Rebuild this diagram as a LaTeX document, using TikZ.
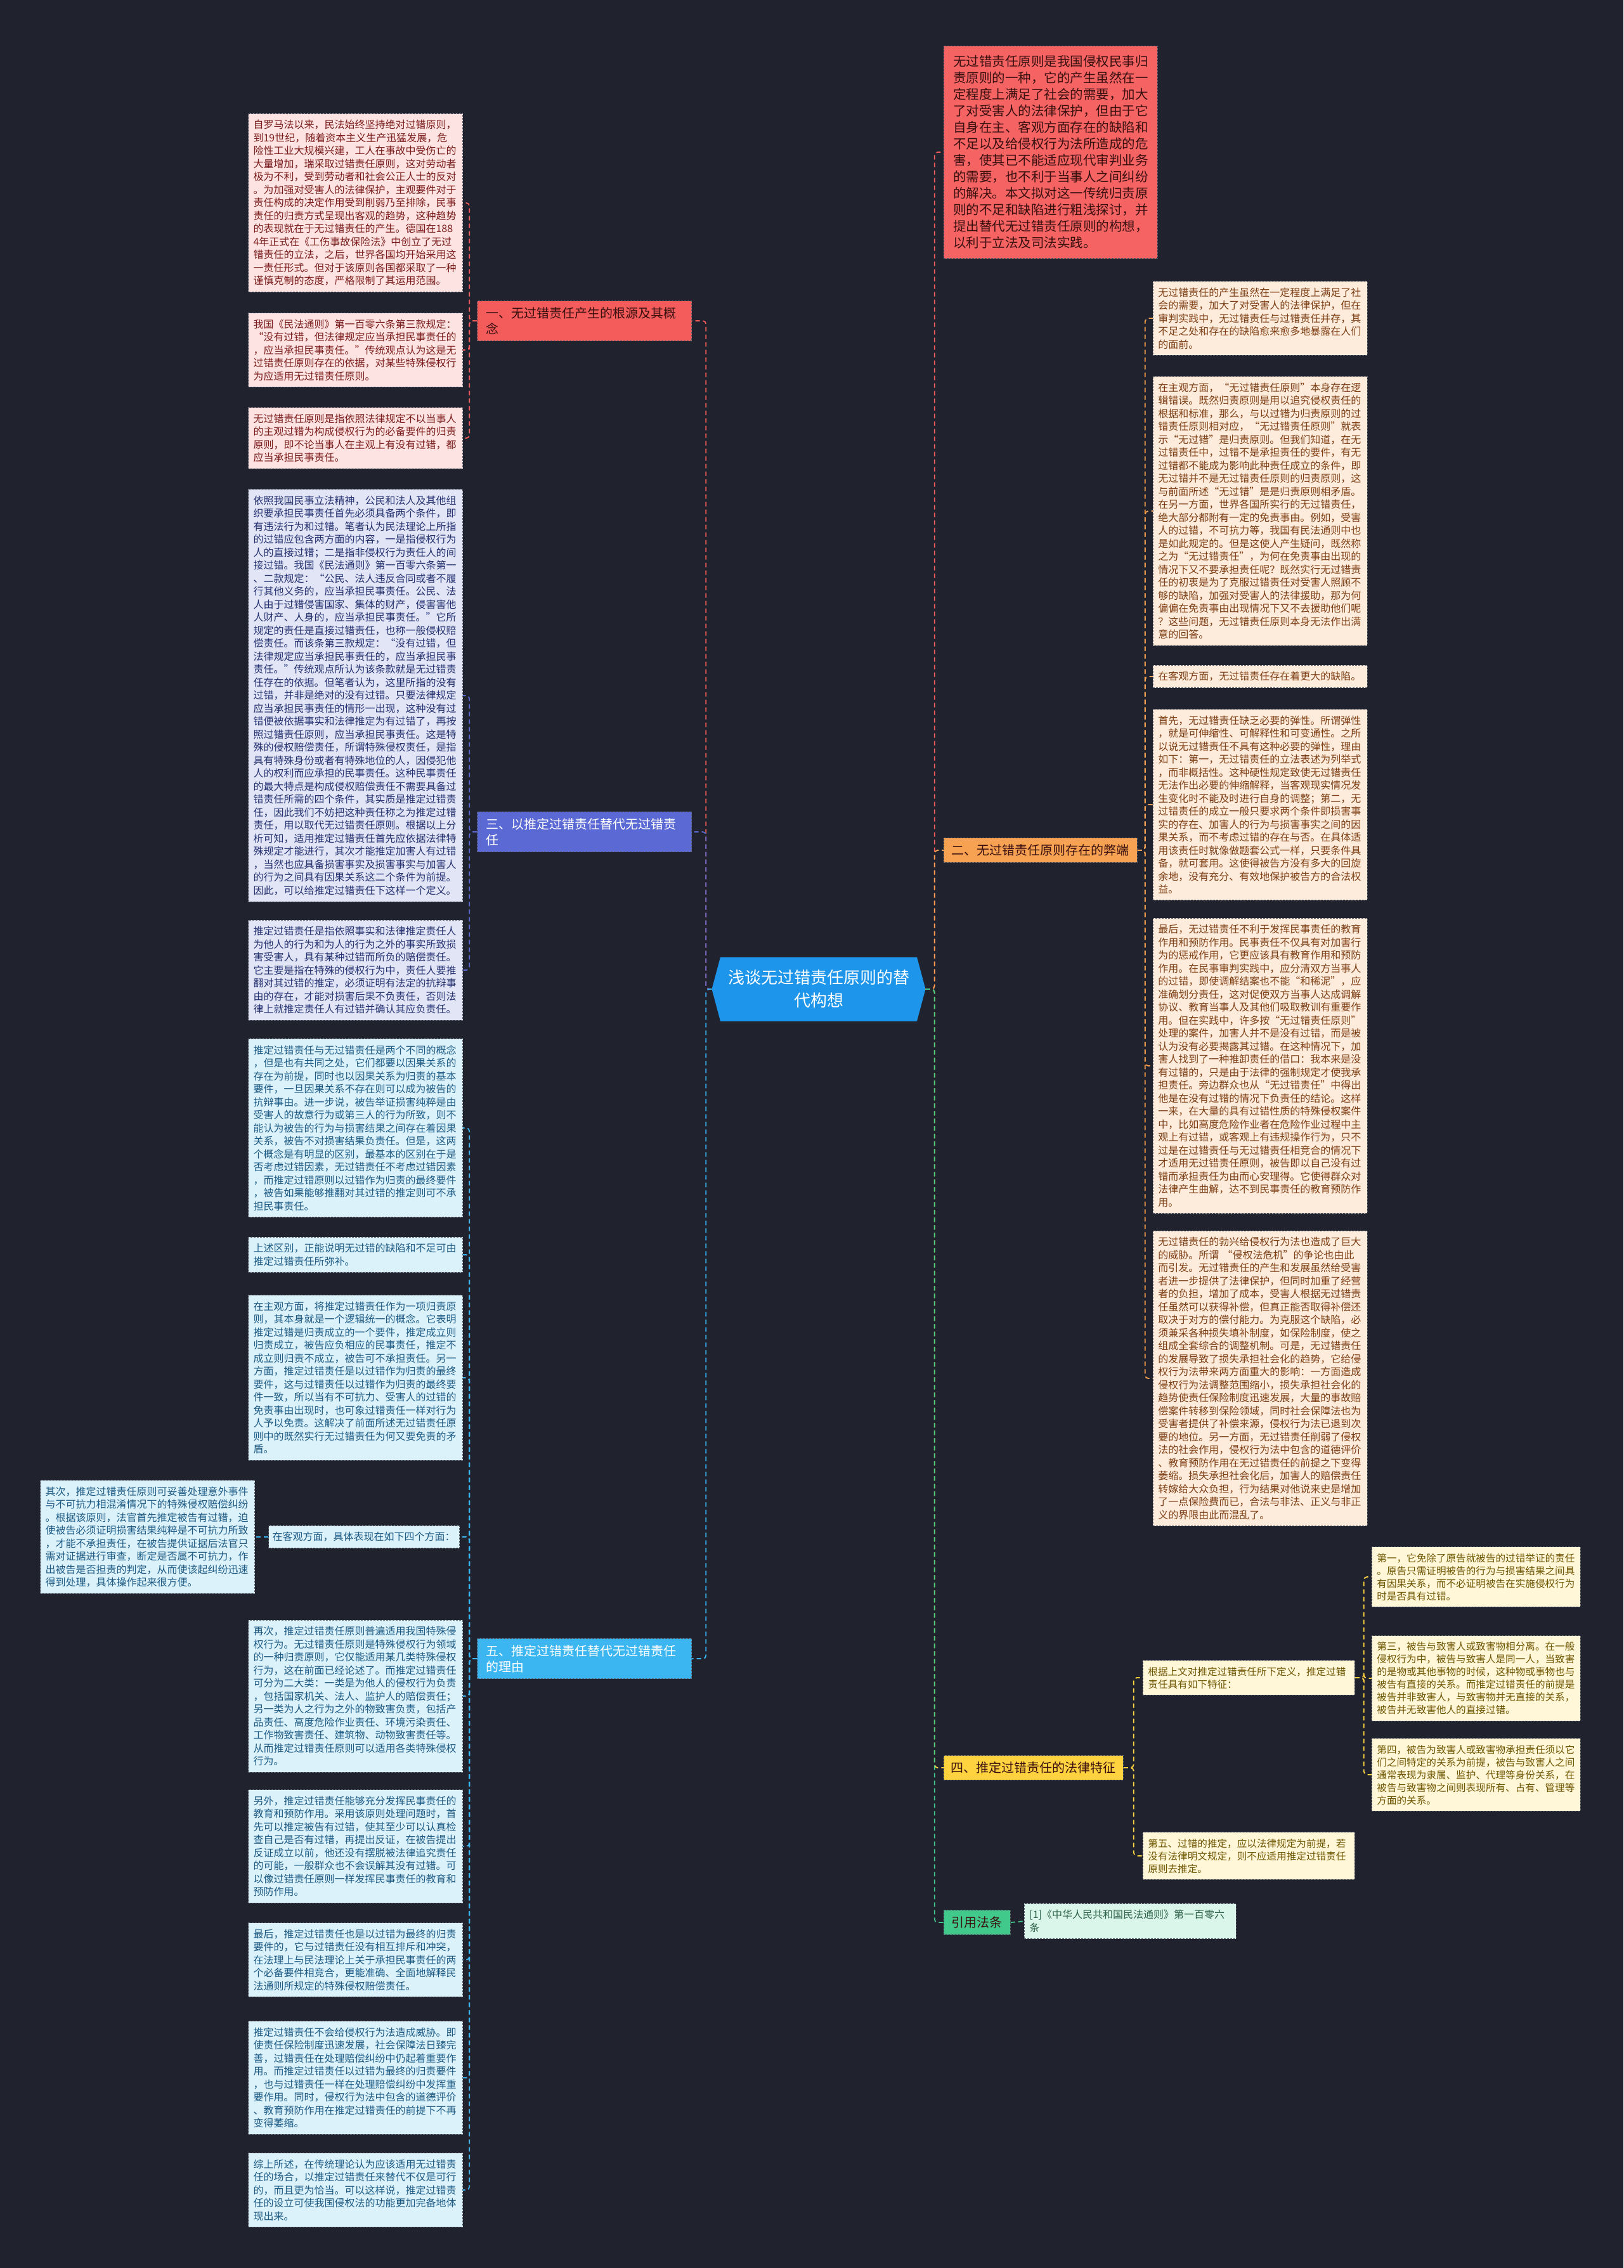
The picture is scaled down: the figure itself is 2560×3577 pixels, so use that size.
\documentclass[tikz,border=0pt]{standalone}
\usepackage{fontspec}
\newfontfamily\cjk{Noto Sans CJK SC}
\usetikzlibrary{shapes.symbols}
\definecolor{Night}{HTML}{20232E}
\definecolor{Edge}{HTML}{5C6170}
\definecolor{Coral}{HTML}{F45B5B}
\definecolor{CoralInk}{HTML}{3A1010}
\definecolor{Indigo}{HTML}{5A69D3}
\definecolor{Sky}{HTML}{3BB6F0}
\definecolor{Tangerine}{HTML}{F7A252}
\definecolor{Sun}{HTML}{FFD23F}
\definecolor{Jade}{HTML}{40C98B}
\definecolor{Azure}{HTML}{1C95EA}
\definecolor{RoseSoft}{HTML}{FDE3E1}
\definecolor{RoseInk}{HTML}{7A1C1C}
\definecolor{LilacSoft}{HTML}{E2E5F6}
\definecolor{LilacInk}{HTML}{243170}
\definecolor{IceSoft}{HTML}{DCF2FB}
\definecolor{IceInk}{HTML}{1C5A84}
\definecolor{PeachSoft}{HTML}{FDEBDC}
\definecolor{PeachInk}{HTML}{7E3F14}
\definecolor{CreamSoft}{HTML}{FFF7D8}
\definecolor{CreamInk}{HTML}{6E5500}
\definecolor{MintSoft}{HTML}{DAF5E9}
\definecolor{MintInk}{HTML}{2C6049}
\tikzset{
  leafbase/.style={draw=Edge,dash pattern=on 3pt off 2pt,line width=0.8pt,text width=322pt,inner xsep=8pt,inner ysep=10pt,align=left,font=\cjk\fontsize{16}{20.5}\selectfont},
  roseleaf/.style={leafbase,fill=RoseSoft,text=RoseInk},
  lilacleaf/.style={leafbase,fill=LilacSoft,text=LilacInk},
  iceleaf/.style={leafbase,fill=IceSoft,text=IceInk},
  peachleaf/.style={leafbase,fill=PeachSoft,text=PeachInk},
  creamleaf/.style={leafbase,fill=CreamSoft,text=CreamInk,text width=313pt,font=\cjk\fontsize{15.6}{20}\selectfont},
  mintleaf/.style={leafbase,fill=MintSoft,text=MintInk},
  topicbase/.style={draw=Edge,dash pattern=on 3pt off 2pt,line width=0.8pt,align=left,inner ysep=10pt,font=\cjk\fontsize{20}{25}\selectfont},
  redtopic/.style={topicbase,fill=Coral,text=CoralInk,text width=310pt,inner xsep=14pt},
  indigotopic/.style={topicbase,fill=Indigo,text=white,text width=310pt,inner xsep=14pt},
  skytopic/.style={topicbase,fill=Sky,text=white,text width=310pt,inner xsep=14pt},
  orangetopic/.style={topicbase,fill=Tangerine,text=CoralInk,inner xsep=12.5pt},
  suntopic/.style={topicbase,fill=Sun,text=CoralInk,inner xsep=11.5pt},
  jadetopic/.style={topicbase,fill=Jade,text=CoralInk,inner xsep=12.5pt},
  introbox/.style={topicbase,fill=Coral!95!white,text=CoralInk,text width=307pt,inner xsep=15pt,inner ysep=15pt,font=\cjk\fontsize{20.5}{26}\selectfont},
  rootbox/.style={signal,signal to=west and east,signal pointer angle=150,fill=Azure,text=white,align=center,minimum width=337pt,minimum height=101pt,font=\cjk\fontsize{26}{36}\selectfont},
  link/.style={draw=#1,dash pattern=on 7pt off 5pt,line width=1.8pt,rounded corners=5pt}
}
\begin{document}
\begin{tikzpicture}[x=1pt,y=-1pt]
  \fill[Night] (0,0) rectangle (2560,3577);
  \useasboundingbox (0,0) rectangle (2560,3577);

  \node[rootbox] (root) at (1291,1560) {浅谈无过错责任原则的替\\代构想};

  \node[redtopic,anchor=east] (b1) at (1091,506) {一、无过错责任产生的根源及其概\\念};
  \node[indigotopic,anchor=east] (b3) at (1091,1312) {三、以推定过错责任替代无过错责\\任};
  \node[skytopic,anchor=east] (b5) at (1091,2616) {五、推定过错责任替代无过错责任\\的理由};

  \node[introbox,anchor=west] (intro) at (1488,240) {无过错责任原则是我国侵权民事归\\责原则的一种，它的产生虽然在一\\定程度上满足了社会的需要，加大\\了对受害人的法律保护，但由于它\\自身在主、客观方面存在的缺陷和\\不足以及给侵权行为法所造成的危\\害，使其已不能适应现代审判业务\\的需要，也不利于当事人之间纠纷\\的解决。本文拟对这一传统归责原\\则的不足和缺陷进行粗浅探讨，并\\提出替代无过错责任原则的构想，\\以利于立法及司法实践。};
  \node[orangetopic,anchor=west] (b2) at (1488,1341) {二、无过错责任原则存在的弊端};
  \node[suntopic,anchor=west] (b4) at (1488,2788) {四、推定过错责任的法律特征};
  \node[jadetopic,anchor=west] (b6) at (1488,3032) {引用法条};

  \node[roseleaf,anchor=east] (l11) at (730,320) {自罗马法以来，民法始终坚持绝对过错原则，\\到19世纪，随着资本主义生产迅猛发展，危\\险性工业大规模兴建，工人在事故中受伤亡的\\大量增加，瑞采取过错责任原则，这对劳动者\\极为不利，受到劳动者和社会公正人士的反对\\。为加强对受害人的法律保护，主观要件对于\\责任构成的决定作用受到削弱乃至排除，民事\\责任的归责方式呈现出客观的趋势，这种趋势\\的表现就在于无过错责任的产生。德国在188\\4年正式在《工伤事故保险法》中创立了无过\\错责任的立法，之后，世界各国均开始采用这\\一责任形式。但对于该原则各国都采取了一种\\谨慎克制的态度，严格限制了其运用范围。};
  \node[roseleaf,anchor=east] (l12) at (730,552) {我国《民法通则》第一百零六条第三款规定：\\“没有过错，但法律规定应当承担民事责任的\\，应当承担民事责任。”传统观点认为这是无\\过错责任原则存在的依据，对某些特殊侵权行\\为应适用无过错责任原则。};
  \node[roseleaf,anchor=east] (l13) at (730,691) {无过错责任原则是指依照法律规定不以当事人\\的主观过错为构成侵权行为的必备要件的归责\\原则，即不论当事人在主观上有没有过错，都\\应当承担民事责任。};

  \node[lilacleaf,anchor=east] (l31) at (730,1097) {依照我国民事立法精神，公民和法人及其他组\\织要承担民事责任首先必须具备两个条件，即\\有违法行为和过错。笔者认为民法理论上所指\\的过错应包含两方面的内容，一是指侵权行为\\人的直接过错；二是指非侵权行为责任人的间\\接过错。我国《民法通则》第一百零六条第一\\、二款规定：“公民、法人违反合同或者不履\\行其他义务的，应当承担民事责任。公民、法\\人由于过错侵害国家、集体的财产，侵害害他\\人财产、人身的，应当承担民事责任。”它所\\规定的责任是直接过错责任，也称一般侵权赔\\偿责任。而该条第三款规定：“没有过错，但\\法律规定应当承担民事责任的，应当承担民事\\责任。”传统观点所认为该条款就是无过错责\\任存在的依据。但笔者认为，这里所指的没有\\过错，并非是绝对的没有过错。只要法律规定\\应当承担民事责任的情形一出现，这种没有过\\错便被依据事实和法律推定为有过错了，再按\\照过错责任原则，应当承担民事责任。这是特\\殊的侵权赔偿责任，所谓特殊侵权责任，是指\\具有特殊身份或者有特殊地位的人，因侵犯他\\人的权利而应承担的民事责任。这种民事责任\\的最大特点是构成侵权赔偿责任不需要具备过\\错责任所需的四个条件，其实质是推定过错责\\任，因此我们不妨把这种责任称之为推定过错\\责任，用以取代无过错责任原则。根据以上分\\析可知，适用推定过错责任首先应依据法律特\\殊规定才能进行，其次才能推定加害人有过错\\，当然也应具备损害事实及损害事实与加害人\\的行为之间具有因果关系这二个条件为前提。\\因此，可以给推定过错责任下这样一个定义。};
  \node[lilacleaf,anchor=east] (l32) at (730,1530) {推定过错责任是指依照事实和法律推定责任人\\为他人的行为和为人的行为之外的事实所致损\\害受害人，具有某种过错而所负的赔偿责任。\\它主要是指在特殊的侵权行为中，责任人要推\\翻对其过错的推定，必须证明有法定的抗辩事\\由的存在，才能对损害后果不负责任，否则法\\律上就推定责任人有过错并确认其应负责任。};

  \node[iceleaf,anchor=east] (l51) at (730,1779) {推定过错责任与无过错责任是两个不同的概念\\，但是也有共同之处，它们都要以因果关系的\\存在为前提，同时也以因果关系为归责的基本\\要件，一旦因果关系不存在则可以成为被告的\\抗辩事由。进一步说，被告举证损害纯粹是由\\受害人的故意行为或第三人的行为所致，则不\\能认为被告的行为与损害结果之间存在着因果\\关系，被告不对损害结果负责任。但是，这两\\个概念是有明显的区别，最基本的区别在于是\\否考虑过错因素，无过错责任不考虑过错因素\\，而推定过错原则以过错作为归责的最终要件\\，被告如果能够推翻对其过错的推定则可不承\\担民事责任。};
  \node[iceleaf,anchor=east] (l52) at (730,1979) {上述区别，正能说明无过错的缺陷和不足可由\\推定过错责任所弥补。};
  \node[iceleaf,anchor=east] (l53) at (730,2173) {在主观方面，将推定过错责任作为一项归责原\\则，其本身就是一个逻辑统一的概念。它表明\\推定过错是归责成立的一个要件，推定成立则\\归责成立，被告应负相应的民事责任，推定不\\成立则归责不成立，被告可不承担责任。另一\\方面，推定过错责任是以过错作为归责的最终\\要件，这与过错责任以过错作为归责的最终要\\件一致，所以当有不可抗力、受害人的过错的\\免责事由出现时，也可象过错责任一样对行为\\人予以免责。这解决了前面所述无过错责任原\\则中的既然实行无过错责任为何又要免责的矛\\盾。};
  \node[iceleaf,anchor=east,text width=289pt,inner xsep=6pt] (l54) at (725,2424) {在客观方面，具体表现在如下四个方面：};
  \node[iceleaf,anchor=east] (l55) at (402,2424) {其次，推定过错责任原则可妥善处理意外事件\\与不可抗力相混淆情况下的特殊侵权赔偿纠纷\\。根据该原则，法官首先推定被告有过错，迫\\使被告必须证明损害结果纯粹是不可抗力所致\\，才能不承担责任，在被告提供证据后法官只\\需对证据进行审查，断定是否属不可抗力，作\\出被告是否担责的判定，从而使该起纠纷迅速\\得到处理，具体操作起来很方便。};
  \node[iceleaf,anchor=east] (l56) at (730,2675) {再次，推定过错责任原则普遍适用我国特殊侵\\权行为。无过错责任原则是特殊侵权行为领域\\的一种归责原则，它仅能适用某几类特殊侵权\\行为，这在前面已经论述了。而推定过错责任\\可分为二大类：一类是为他人的侵权行为负责\\，包括国家机关、法人、监护人的赔偿责任；\\另一类为人之行为之外的物致害负责，包括产\\品责任、高度危险作业责任、环境污染责任、\\工作物致害责任、建筑物、动物致害责任等。\\从而推定过错责任原则可以适用各类特殊侵权\\行为。};
  \node[iceleaf,anchor=east] (l57) at (730,2912) {另外，推定过错责任能够充分发挥民事责任的\\教育和预防作用。采用该原则处理问题时，首\\先可以推定被告有过错，使其至少可以认真检\\查自己是否有过错，再提出反证，在被告提出\\反证成立以前，他还没有摆脱被法律追究责任\\的可能，一般群众也不会误解其没有过错。可\\以像过错责任原则一样发挥民事责任的教育和\\预防作用。};
  \node[iceleaf,anchor=east] (l58) at (730,3091) {最后，推定过错责任也是以过错为最终的归责\\要件的，它与过错责任没有相互排斥和冲突，\\在法理上与民法理论上关于承担民事责任的两\\个必备要件相竞合，更能准确、全面地解释民\\法通则所规定的特殊侵权赔偿责任。};
  \node[iceleaf,anchor=east] (l59) at (730,3277) {推定过错责任不会给侵权行为法造成威胁。即\\使责任保险制度迅速发展，社会保障法日臻完\\善，过错责任在处理赔偿纠纷中仍起着重要作\\用。而推定过错责任以过错为最终的归责要件\\，也与过错责任一样在处理赔偿纠纷中发挥重\\要作用。同时，侵权行为法中包含的道德评价\\、教育预防作用在推定过错责任的前提下不再\\变得萎缩。};
  \node[iceleaf,anchor=east] (l510) at (730,3454) {综上所述，在传统理论认为应该适用无过错责\\任的场合，以推定过错责任来替代不仅是可行\\的，而且更为恰当。可以这样说，推定过错责\\任的设立可使我国侵权法的功能更加完备地体\\现出来。};

  \node[peachleaf,anchor=west] (l21) at (1818,502) {无过错责任的产生虽然在一定程度上满足了社\\会的需要，加大了对受害人的法律保护，但在\\审判实践中，无过错责任与过错责任并存，其\\不足之处和存在的缺陷愈来愈多地暴露在人们\\的面前。};
  \node[peachleaf,anchor=west] (l22) at (1818,806) {在主观方面，“无过错责任原则”本身存在逻\\辑错误。既然归责原则是用以追究侵权责任的\\根据和标准，那么，与以过错为归责原则的过\\错责任原则相对应，“无过错责任原则”就表\\示“无过错”是归责原则。但我们知道，在无\\过错责任中，过错不是承担责任的要件，有无\\过错都不能成为影响此种责任成立的条件，即\\无过错并不是无过错责任原则的归责原则，这\\与前面所述“无过错”是是归责原则相矛盾。\\在另一方面，世界各国所实行的无过错责任，\\绝大部分都附有一定的免责事由。例如，受害\\人的过错，不可抗力等，我国有民法通则中也\\是如此规定的。但是这使人产生疑问，既然称\\之为“无过错责任”，为何在免责事由出现的\\情况下又不要承担责任呢？既然实行无过错责\\任的初衷是为了克服过错责任对受害人照顾不\\够的缺陷，加强对受害人的法律援助，那为何\\偏偏在免责事由出现情况下又不去援助他们呢\\？这些问题，无过错责任原则本身无法作出满\\意的回答。};
  \node[peachleaf,anchor=west] (l23) at (1818,1067) {在客观方面，无过错责任存在着更大的缺陷。};
  \node[peachleaf,anchor=west] (l24) at (1818,1269) {首先，无过错责任缺乏必要的弹性。所谓弹性\\，就是可伸缩性、可解释性和可变通性。之所\\以说无过错责任不具有这种必要的弹性，理由\\如下：第一，无过错责任的立法表述为列举式\\，而非概括性。这种硬性规定致使无过错责任\\无法作出必要的伸缩解释，当客观现实情况发\\生变化时不能及时进行自身的调整；第二，无\\过错责任的成立一般只要求两个条件即损害事\\实的存在、加害人的行为与损害事实之间的因\\果关系，而不考虑过错的存在与否。在具体适\\用该责任时就像做题套公式一样，只要条件具\\备，就可套用。这使得被告方没有多大的回旋\\余地，没有充分、有效地保护被告方的合法权\\益。};
  \node[peachleaf,anchor=west] (l25) at (1818,1681) {最后，无过错责任不利于发挥民事责任的教育\\作用和预防作用。民事责任不仅具有对加害行\\为的惩戒作用，它更应该具有教育作用和预防\\作用。在民事审判实践中，应分清双方当事人\\的过错，即使调解结案也不能“和稀泥”，应\\准确划分责任，这对促使双方当事人达成调解\\协议、教育当事人及其他们吸取教训有重要作\\用。但在实践中，许多按“无过错责任原则”\\处理的案件，加害人并不是没有过错，而是被\\认为没有必要揭露其过错。在这种情况下，加\\害人找到了一种推卸责任的借口：我本来是没\\有过错的，只是由于法律的强制规定才使我承\\担责任。旁边群众也从“无过错责任”中得出\\他是在没有过错的情况下负责任的结论。这样\\一来，在大量的具有过错性质的特殊侵权案件\\中，比如高度危险作业者在危险作业过程中主\\观上有过错，或客观上有违规操作行为，只不\\过是在过错责任与无过错责任相竞合的情况下\\才适用无过错责任原则，被告即以自己没有过\\错而承担责任为由而心安理得。它使得群众对\\法律产生曲解，达不到民事责任的教育预防作\\用。};
  \node[peachleaf,anchor=west] (l26) at (1818,2174) {无过错责任的勃兴给侵权行为法也造成了巨大\\的威胁。所谓 “侵权法危机”的争论也由此\\而引发。无过错责任的产生和发展虽然给受害\\者进一步提供了法律保护，但同时加重了经营\\者的负担，增加了成本，受害人根据无过错责\\任虽然可以获得补偿，但真正能否取得补偿还\\取决于对方的偿付能力。为克服这个缺陷，必\\须兼采各种损失填补制度，如保险制度，使之\\组成全套综合的调整机制。可是，无过错责任\\的发展导致了损失承担社会化的趋势，它给侵\\权行为法带来两方面重大的影响：一方面造成\\侵权行为法调整范围缩小，损失承担社会化的\\趋势使责任保险制度迅速发展，大量的事故赔\\偿案件转移到保险领域，同时社会保障法也为\\受害者提供了补偿来源，侵权行为法已退到次\\要的地位。另一方面，无过错责任削弱了侵权\\法的社会作用，侵权行为法中包含的道德评价\\、教育预防作用在无过错责任的前提之下变得\\萎缩。损失承担社会化后，加害人的赔偿责任\\转嫁给大众负担，行为结果对他说来史是增加\\了一点保险费而已，合法与非法、正义与非正\\义的界限由此而混乱了。};

  \node[creamleaf,anchor=west,text width=318pt] (s41) at (1802,2646) {根据上文对推定过错责任所下定义，推定过错\\责任具有如下特征：};
  \node[creamleaf,anchor=west,text width=318pt] (s42) at (1802,2927) {第五、过错的推定，应以法律规定为前提，若\\没有法律明文规定，则不应适用推定过错责任\\原则去推定。};
  \node[creamleaf,anchor=west] (t41) at (2163,2487) {第一，它免除了原告就被告的过错举证的责任\\。原告只需证明被告的行为与损害结果之间具\\有因果关系，而不必证明被告在实施侵权行为\\时是否具有过错。};
  \node[creamleaf,anchor=west] (t42) at (2163,2647) {第三，被告与致害人或致害物相分离。在一般\\侵权行为中，被告与致害人是同一人，当致害\\的是物或其他事物的时候，这种物或事物也与\\被告有直接的关系。而推定过错责任的前提是\\被告并非致害人，与致害物并无直接的关系，\\被告并无致害他人的直接过错。};
  \node[creamleaf,anchor=west] (t43) at (2163,2799) {第四，被告为致害人或致害物承担责任须以它\\们之间特定的关系为前提，被告与致害人之间\\通常表现为隶属、监护、代理等身份关系，在\\被告与致害物之间则表现所有、占有、管理等\\方面的关系。};

  \node[mintleaf,anchor=west,text width=318pt] (l61) at (1615,3030) {[1]《中华人民共和国民法通则》第一百零六\\条};

  \draw[link=Coral] (root.west) -- ++(-9,0) |- (b1.east);
  \draw[link=Indigo] (root.west) -- ++(-9,0) |- (b3.east);
  \draw[link=Sky] (root.west) -- ++(-9,0) |- (b5.east);
  \draw[link=Coral] (root.east) -- ++(14,0) |- (intro.west);
  \draw[link=Tangerine] (root.east) -- ++(14,0) |- (b2.west);
  \draw[link=Sun] (root.east) -- ++(14,0) |- (b4.west);
  \draw[link=Jade] (root.east) -- ++(14,0) |- (b6.west);

  \foreach \n in {l11,l12,l13}
    \draw[link=Coral] (b1.west) -- ++(-12,0) |- (\n.east);
  \foreach \n in {l31,l32}
    \draw[link=Indigo] (b3.west) -- ++(-12,0) |- (\n.east);
  \foreach \n in {l51,l52,l53,l54,l56,l57,l58,l59,l510}
    \draw[link=Sky] (b5.west) -- ++(-12,0) |- (\n.east);
  \draw[link=Sky] (l54.west) -- (l55.east);
  \foreach \n in {l21,l22,l23,l24,l25,l26}
    \draw[link=Tangerine] (b2.east) -- ++(12,0) |- (\n.west);
  \foreach \n in {s41,s42}
    \draw[link=Sun] (b4.east) -- ++(16,0) |- (\n.west);
  \foreach \n in {t41,t42,t43}
    \draw[link=Sun] (s41.east) -- ++(14,0) |- (\n.west);
  \draw[link=Jade] (b6.east) -- (l61.west);
\end{tikzpicture}
\end{document}
